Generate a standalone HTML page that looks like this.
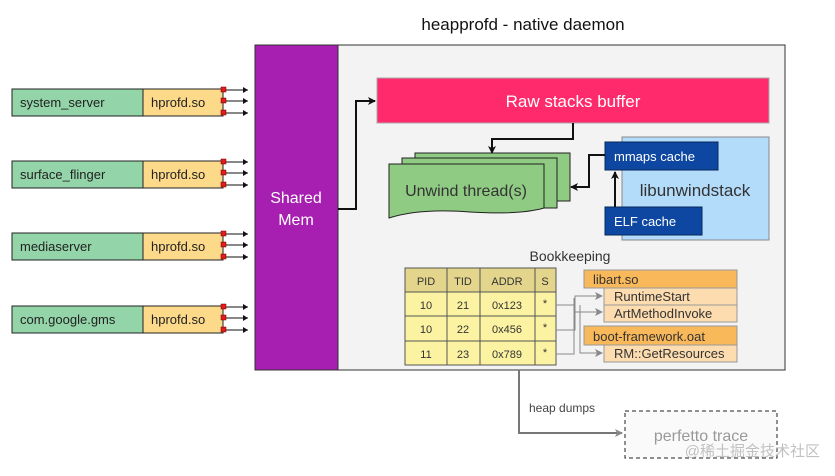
<!DOCTYPE html>
<html><head><style>body{margin:0;background:#fff}svg{display:block;font-family:"Liberation Sans","Noto Sans CJK SC",sans-serif}</style></head><body>
<svg width="835" height="476" viewBox="0 0 835 476" xmlns="http://www.w3.org/2000/svg">
<defs>
<marker id="a" markerWidth="8" markerHeight="8" refX="7" refY="4" orient="auto" markerUnits="userSpaceOnUse"><path d="M0,0 L8,4 L0,8 L2,4z" fill="#111"/></marker>
<marker id="g" markerWidth="8" markerHeight="8" refX="7" refY="4" orient="auto" markerUnits="userSpaceOnUse"><path d="M0,0 L8,4 L0,8 L2,4z" fill="#888"/></marker>
<marker id="s" markerWidth="5" markerHeight="6" refX="5" refY="3" orient="auto" markerUnits="userSpaceOnUse"><path d="M0,0 L5,3 L0,6z" fill="#111"/></marker>
</defs>
<text x="523" y="30" font-size="17" text-anchor="middle" fill="#111">heapprofd - native daemon</text>
<rect x="255" y="45" width="530" height="325" fill="#f3f3f3" stroke="#333" stroke-width="1"/>
<rect x="255" y="45" width="83" height="325" fill="#a61fb0" stroke="#333" stroke-width="1"/>
<text x="296" y="203" font-size="16" fill="#fff" text-anchor="middle">Shared</text>
<text x="296" y="225" font-size="16" fill="#fff" text-anchor="middle">Mem</text>
<g font-size="13" fill="#222">
<g id="r1">
<rect x="12" y="89" width="131" height="27" fill="#93d5a9" stroke="#222"/>
<rect x="143" y="89" width="80" height="27" fill="#fdd98a" stroke="#222"/>
<path d="M226 90H248" stroke="#111" marker-end="url(#s)"/>
<path d="M226 101H248" stroke="#111" marker-end="url(#s)"/>
<path d="M226 113H248" stroke="#111" marker-end="url(#s)"/>
<rect x="221" y="87" width="5" height="5" fill="#e31b1b" stroke="#600" stroke-width="0.5"/><rect x="221" y="98" width="5" height="5" fill="#e31b1b" stroke="#600" stroke-width="0.5"/><rect x="221" y="110" width="5" height="5" fill="#e31b1b" stroke="#600" stroke-width="0.5"/>
</g>
<text x="20" y="107">system_server</text><text x="151" y="107">hprofd.so</text>
<use href="#r1" y="72"/><text x="20" y="179">surface_flinger</text><text x="151" y="179">hprofd.so</text>
<use href="#r1" y="144"/><text x="20" y="251">mediaserver</text><text x="151" y="251">hprofd.so</text>
<use href="#r1" y="217"/><text x="20" y="324">com.google.gms</text><text x="151" y="324">hprofd.so</text>
</g>
<rect x="377" y="78" width="392" height="45" fill="#ff2a6c" stroke="#aaa"/>
<text x="573" y="107" font-size="17" fill="#fff" text-anchor="middle">Raw stacks buffer</text>
<path d="M338 209H356V101H375" fill="none" stroke="#111" stroke-width="2" marker-end="url(#a)"/>
<path d="M573 123V139H492V153" fill="none" stroke="#111" stroke-width="2" marker-end="url(#a)"/>
<g stroke="#222" fill="#8fcb82">
<rect x="415" y="153" width="155" height="48"/>
<rect x="402" y="158" width="155" height="50"/>
<path d="M389 164H544V208Q520 215 470 212Q420 208 389 218Z"/>
</g>
<text x="466" y="196" font-size="16" fill="#333" text-anchor="middle">Unwind thread(s)</text>
<rect x="622" y="137" width="147" height="103" fill="#b3dcfb" stroke="#888"/>
<text x="695" y="196" font-size="17" fill="#333" text-anchor="middle">libunwindstack</text>
<rect x="605" y="142" width="113" height="28" fill="#0d47a1" stroke="#06275a"/>
<text x="614" y="161" font-size="13" fill="#fff">mmaps cache</text>
<rect x="605" y="207" width="97" height="28" fill="#0d47a1" stroke="#06275a"/>
<text x="614" y="226" font-size="13" fill="#fff">ELF cache</text>
<path d="M605 155H589V187H571" fill="none" stroke="#111" stroke-width="2" marker-end="url(#a)"/>
<path d="M615 207V172" fill="none" stroke="#111" stroke-width="2" marker-end="url(#a)"/>
<text x="570" y="261" font-size="14" fill="#333" text-anchor="middle">Bookkeeping</text>
<g stroke="#555" stroke-width="1">
<rect x="405" y="268" width="151" height="24" fill="#e3d68c"/>
<rect x="405" y="292" width="151" height="73" fill="#fbf3a2"/>
<path d="M405 316H556M405 341H556M447 268V365M480 268V365M535 268V365"/>
</g>
<g font-size="11" fill="#333" text-anchor="middle">
<text x="426" y="285">PID</text><text x="463" y="285">TID</text><text x="507" y="285">ADDR</text><text x="545" y="285">S</text>
<text x="426" y="309">10</text><text x="463" y="309">21</text><text x="507" y="309">0x123</text><text x="545" y="307">*</text>
<text x="426" y="333">10</text><text x="463" y="333">22</text><text x="507" y="333">0x456</text><text x="545" y="331">*</text>
<text x="426" y="358">11</text><text x="463" y="358">23</text><text x="507" y="358">0x789</text><text x="545" y="356">*</text>
</g>
<g stroke="#888" fill="none" stroke-width="1">
<path d="M556 305H575V296H602" marker-end="url(#g)"/>
<path d="M575 305V312H602" marker-end="url(#g)"/>
<path d="M556 330H575V305"/>
<path d="M556 354H574V298" />
<path d="M580 305V353H602" marker-end="url(#g)"/>
</g>
<g stroke="#999" font-size="13" fill="#333">
<rect x="584" y="270" width="153" height="18" fill="#f9b85a"/>
<rect x="604" y="288" width="133" height="17" fill="#fddcb0"/>
<rect x="604" y="305" width="133" height="17" fill="#fddcb0"/>
<rect x="584" y="326" width="153" height="19" fill="#f9b85a"/>
<rect x="604" y="345" width="133" height="17" fill="#fddcb0"/>
</g>
<g font-size="13" fill="#333">
<text x="593" y="284">libart.so</text>
<text x="614" y="301">RuntimeStart</text>
<text x="614" y="318">ArtMethodInvoke</text>
<text x="593" y="341">boot-framework.oat</text>
<text x="614" y="358">RM::GetResources</text>
</g>
<path d="M519 370V433H622" fill="none" stroke="#777" stroke-width="2" marker-end="url(#g)"/>
<text x="529" y="412" font-size="12" fill="#444">heap dumps</text>
<rect x="625" y="411" width="152" height="47" fill="#fafafa" stroke="#222" stroke-dasharray="4,3"/>
<text x="701" y="441" font-size="16" fill="#999" text-anchor="middle">perfetto trace</text>
<text x="820" y="456" font-size="15" fill="#bbb" text-anchor="end" opacity="0.9">@稀土掘金技术社区</text>
</svg>
</body></html>
